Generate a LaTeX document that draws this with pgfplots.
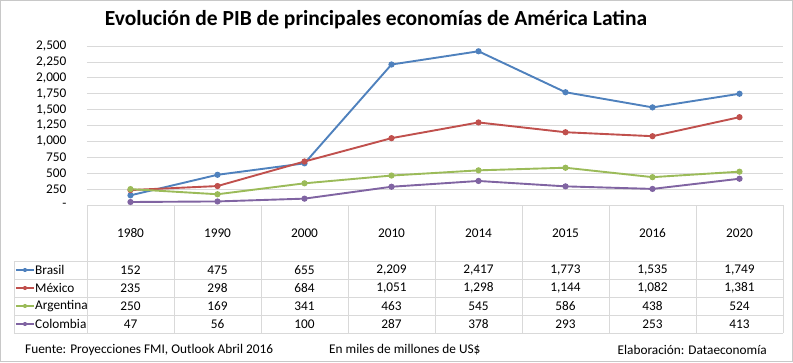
\documentclass[border=0pt]{standalone}
\usepackage{pgfplots}
\pgfplotsset{compat=1.18}
\usepackage{pgfplotstable}
\usepackage{fontspec}
\setmainfont{Carlito}
\definecolor{cBra}{HTML}{4F81BD}
\definecolor{cMex}{HTML}{C0504D}
\definecolor{cArg}{HTML}{9BBB59}
\definecolor{cCol}{HTML}{8064A2}
\definecolor{gridc}{HTML}{D9D9D9}
\definecolor{framec}{HTML}{C8C8C8}
\newcommand{\bodyfont}{\fontsize{13.3}{15}\selectfont}
\pgfplotstableread{
x year brasil mexico argentina colombia
0 1980 152 235 250 47
1 1990 475 298 169 56
2 2000 655 684 341 100
3 2010 2209 1051 463 287
4 2014 2417 1298 545 378
5 2015 1773 1144 586 293
6 2016 1535 1082 438 253
7 2020 1749 1381 524 413
}\datatab
\begin{document}
\begin{tikzpicture}[x=1pt,y=1pt]
\begin{axis}[
  name=ax, at={(0,0)}, anchor=south west,
  scale only axis, width=696pt, height=159pt,
  xmin=-0.5, xmax=7.5, ymin=0, ymax=2500,
  clip=false,
  axis line style={draw=none},
  tick style={draw=none},
  ymajorgrids, grid style={gridc, line width=0.8pt},
  ytick={0,250,...,2500},
  yticklabels={-\hspace{5pt},250,500,750,{1,000},{1,250},{1,500},{1,750},{2,000},{2,250},{2,500}},
  yticklabel style={font=\bodyfont, anchor=east, xshift=-17pt},
  xtick={0,...,7},
  xticklabels={1980,1990,2000,2010,2014,2015,2016,2020},
  xticklabel style={font=\bodyfont, anchor=center, yshift=-28pt},
  /pgf/number format/assume math mode=true,
  /pgf/number format/1000 sep={,},
  every axis plot/.append style={line width=1.9pt, mark=*, mark size=2.1pt},
  nodes near coords style={font=\bodyfont, anchor=center, text=black},
]
\addplot[cBra, mark options={fill=cBra}] table[x=x,y=brasil]{\datatab};
\addplot[cMex, mark options={fill=cMex}] table[x=x,y=mexico]{\datatab};
\addplot[cArg, mark options={fill=cArg}] table[x=x,y=argentina]{\datatab};
\addplot[cCol, mark options={fill=cCol}] table[x=x,y=colombia]{\datatab};
% data table rows
\addplot[draw=none, mark=none, nodes near coords, point meta=explicit] table[x=x, y expr=-1022, meta=brasil]{\datatab};
\addplot[draw=none, mark=none, nodes near coords, point meta=explicit] table[x=x, y expr=-1305, meta=mexico]{\datatab};
\addplot[draw=none, mark=none, nodes near coords, point meta=explicit] table[x=x, y expr=-1588, meta=argentina]{\datatab};
\addplot[draw=none, mark=none, nodes near coords, point meta=explicit] table[x=x, y expr=-1871, meta=colombia]{\datatab};
\end{axis}
\begin{scope}[shift={(ax.south west)}, xshift=-87pt, yshift=-157pt]
\draw[framec, line width=0.8pt] (0.5,0.5) rectangle (792.5,361.5);
% table grid
\begin{scope}[gridc, line width=0.8pt]
\foreach \yy in {261,279,297,315,333} {\draw (14,362-\yy) -- (783,362-\yy);}
\draw (14,362-261) -- (14,362-333);
\foreach \k in {0,...,8} {\draw (87+87*\k,362-205) -- (87+87*\k,362-333);}
\end{scope}
% legend keys
\foreach \yy/\cc/\nm in {270/cBra/Brasil,288/cMex/México,306/cArg/Argentina,324/cCol/Colombia} {
  \draw[\cc, line width=1.9pt] (16,362-\yy) -- (34,362-\yy);
  \fill[\cc] (25,362-\yy) circle (2.1pt);
  \node[anchor=west, inner sep=0pt, font=\bodyfont] at (35,362-\yy) {\nm};
}
% title and footer
\node[font=\fontsize{21.5}{24}\selectfont\bfseries] at (376,362-20) {Evolución de PIB de principales economías de América Latina};
\node[anchor=west, inner sep=0pt, font=\bodyfont] at (25,362-350) {Fuente: Proyecciones FMI, Outlook Abril 2016};
\node[anchor=west, inner sep=0pt, font=\bodyfont] at (329,362-350) {En miles de millones de US\$};
\node[anchor=east, inner sep=0pt, font=\bodyfont] at (767,362-350) {Elaboración: Dataeconomía};
\pgfresetboundingbox
\path[use as bounding box] (0,0) rectangle (793,362);
\end{scope}
\end{tikzpicture}
\end{document}
